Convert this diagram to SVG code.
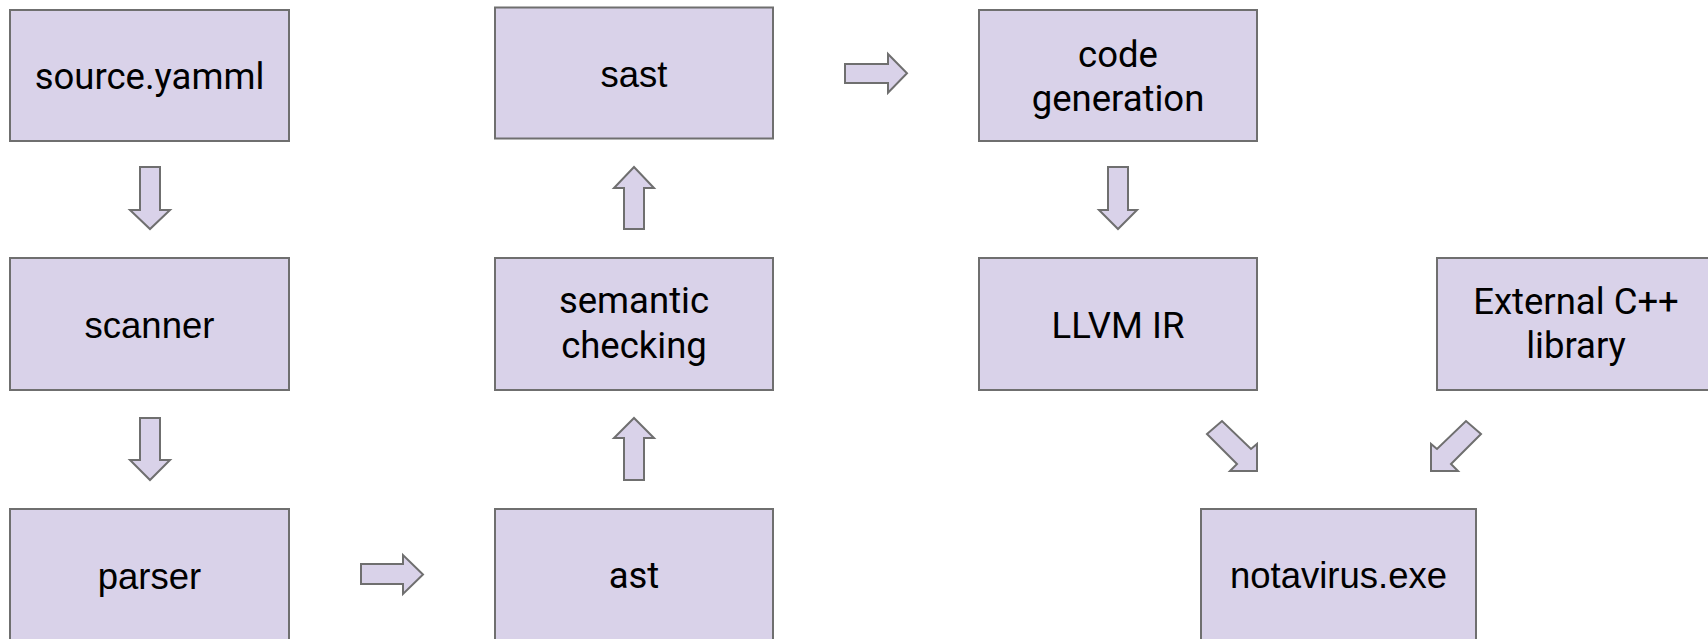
<svg xmlns="http://www.w3.org/2000/svg" width="1708" height="639" viewBox="0 0 1708 639">
<style>
.box{fill:#d9d2e9;stroke:#6f6f6f;stroke-width:2}
.arr{fill:#d9d2e9;stroke:#6f6f6f;stroke-width:2;stroke-linejoin:miter}
.r{font-family:Roboto,"Liberation Sans",sans-serif;font-size:36.5px;fill:#000;text-anchor:middle}
.a{font-family:"Liberation Sans",Arial,sans-serif;font-size:36.5px;fill:#000;text-anchor:middle}
</style>
<rect width="1708" height="639" fill="#ffffff"/>
<g id="connectors">
<polygon class="arr" points="140,167 160,167 160,210 170,210 150,229 130,210 140,210"/>
<polygon class="arr" points="140,418 160,418 160,460 170,460 150,480 130,460 140,460"/>
<polygon class="arr" points="361,564 403,564 403,555 423,574.5 403,594 403,584 361,584"/>
<polygon class="arr" points="624,480 644,480 644,438 654,438 634,418 614,438 624,438"/>
<polygon class="arr" points="624,229 644,229 644,188 654,188 634,167 614,188 624,188"/>
<polygon class="arr" points="845,64 888,64 888,54 907,73.3 888,92.7 888,83 845,83"/>
<polygon class="arr" points="1108,167 1128,167 1128,210 1137,210 1118,229 1099,210 1108,210"/>
<polygon class="arr" points="1207,434 1222,421 1251,449 1257,444 1257,471 1230,471 1237,464"/>
<polygon class="arr" points="1481,434 1466,421 1437,449 1431,444 1431,471 1458,471 1451,464"/>
</g>
<g id="source"><rect class="box" x="10" y="10" width="279" height="131"/><text class="r" x="149.5" y="89">source.yamml</text></g>
<g id="scanner"><rect class="box" x="10" y="258" width="279" height="132"/><text class="a" x="149.5" y="338">scanner</text></g>
<g id="parser"><rect class="box" x="10" y="509" width="279" height="132"/><text class="a" x="149.5" y="589">parser</text></g>
<g id="sast"><rect class="box" x="495" y="7.5" width="278" height="131"/><text class="a" x="634" y="87">sast</text></g>
<g id="semantic"><rect class="box" x="495" y="258" width="278" height="132"/><text class="r" x="634" y="313">semantic</text><text class="r" x="634" y="358">checking</text></g>
<g id="ast"><rect class="box" x="495" y="509" width="278" height="132"/><text class="r" x="634" y="588">ast</text></g>
<g id="codegen"><rect class="box" x="979" y="10" width="278" height="131"/><text class="r" x="1118" y="67">code</text><text class="r" x="1118" y="111">generation</text></g>
<g id="llvm"><rect class="box" x="979" y="258" width="278" height="132"/><text class="r" x="1118" y="338">LLVM IR</text></g>
<g id="external"><rect class="box" x="1437" y="258" width="280" height="132"/><text class="r" x="1576" y="314">External C++</text><text class="r" x="1576" y="358">library</text></g>
<g id="notavirus"><rect class="box" x="1201" y="509" width="275" height="132"/><text class="a" x="1338.5" y="588">notavirus.exe</text></g>
</svg>
